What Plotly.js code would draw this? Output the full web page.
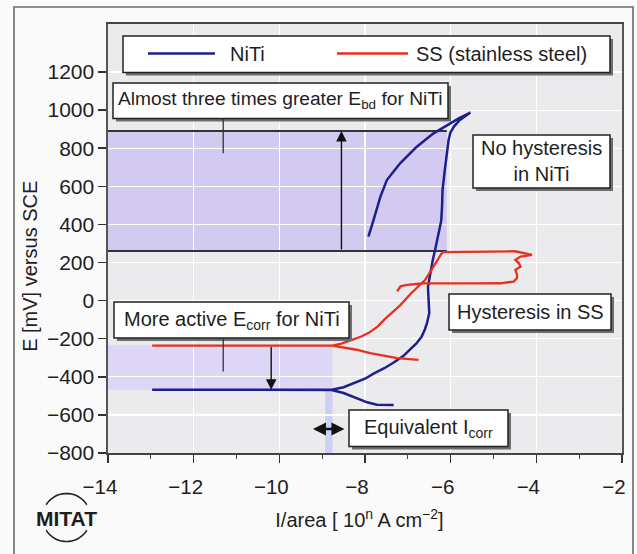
<!DOCTYPE html>
<html>
<head>
<meta charset="utf-8">
<script src="https://cdn.plot.ly/plotly-3.0.1.min.js"></script>
<style>html,body{margin:0;padding:0;background:#fff;}#chart{width:637px;height:554px;}</style>
</head>
<body>
<div id="chart"></div>
<script>
// ---- data ----
const seriesNames = ["NiTi", "SS (stainless steel)"];

// NiTi cyclic polarization curve: cathodic end -> Ecorr -> low-current tail -> anodic -> reverse
const nitiX = [-7.33,-7.72,-7.95,-8.19,-8.50,-8.78,-12.97,-8.78,-8.50,-8.27,-8.00,-7.80,-7.55,-7.33,-7.10,-6.94,-6.80,-6.68,-6.60,-6.55,-6.50,-6.51,-6.52,-6.53,-6.50,-6.47,-6.42,-6.36,-6.30,-6.22,-6.20,-6.19,-6.14,-6.10,-6.05,-6.01,-5.92,-5.80,-5.66,-5.54,-5.80,-6.01,-6.40,-6.79,-7.18,-7.49,-7.64,-7.80,-7.92];
const nitiY = [-548,-547,-534,-511,-485,-469,-468,-468,-455,-435,-410,-383,-355,-325,-290,-255,-225,-190,-150,-115,-66,-20,20,70,110,150,210,270,340,420,500,580,680,760,840,880,915,945,968,987,958,931,878,808,721,633,546,424,336];

// SS cyclic polarization curve
const ssX = [-6.75,-7.00,-7.25,-7.50,-7.88,-8.20,-8.58,-8.76,-12.97,-8.76,-8.55,-8.34,-8.10,-7.90,-7.70,-7.55,-7.35,-7.18,-6.94,-6.75,-6.60,-6.45,-6.32,-6.22,-6.17,-5.50,-5.00,-4.62,-4.50,-4.10,-4.37,-4.49,-4.41,-4.37,-4.49,-4.45,-4.45,-4.53,-4.84,-5.50,-6.20,-6.63,-7.02,-7.17,-7.25];
const ssY = [-311,-308,-302,-292,-276,-258,-241,-236,-236,-236,-226,-210,-190,-168,-135,-100,-62,-25,35,75,108,160,210,245,255,257,257,257,259,240,231,214,197,179,161,135,118,100,91,90,90,91,83,75,48];

// axes
const xTickVals = [-14,-12,-10,-8,-6,-4,-2];
const yTickVals = [-800,-600,-400,-200,0,200,400,600,800,1000,1200];
const xRange = [-14,-2];
const yRange = [-800,1452];

// annotation texts
const labelEbd = "Almost three times greater E<sub>bd</sub> for NiTi";
const labelNoHyst = "No hysteresis<br>in NiTi";
const labelHystSS = "Hysteresis in SS";
const labelEcorr = "More active E<sub>corr</sub> for NiTi";
const labelIcorr = "Equivalent I<sub>corr</sub>";
const xTitle = "I/area [ 10<sup>n</sup> A cm<sup>\u22122</sup>]&nbsp;&nbsp;";
const yTitle = "E [mV] versus SCE" + "&nbsp;".repeat(10);
const logoText = "MITAT";

// key levels (mV / log current)
const ebdNiTi = 890, ebdSS = 260, bandRight = -6.09;
const ecorrSS = -236, ecorrNiTi = -468, ecorrBandRight = -8.76;
const icorrLo = -8.93, icorrHi = -8.76;

// ---- geometry helpers (pixel boxes converted to data coords) ----
const L = 108, R = 622, T = 24, B = 453;
const pxX = px => xRange[0] + (px - L) * (xRange[1] - xRange[0]) / (R - L);
const pxY = py => yRange[1] - (py - T) * (yRange[1] - yRange[0]) / (B - T);
const paperX = px => (px - L) / (R - L);
const paperY = py => (B - py) / (B - T);

const FONT = "Liberation Sans, Arial, Helvetica, sans-serif";
const BLUE = "#1d1f8a", RED = "#e8301e";

const shapes = [];
// shaded bands (below gridlines)
shapes.push({type:"rect", layer:"below", xref:"x", yref:"y", x0:xRange[0], x1:bandRight, y0:ebdSS, y1:ebdNiTi, fillcolor:"#d3caf1", line:{width:0}});
shapes.push({type:"rect", layer:"below", xref:"x", yref:"y", x0:xRange[0], x1:ecorrBandRight, y0:ecorrNiTi, y1:ecorrSS+4, fillcolor:"#ddd6f4", line:{width:0}});
shapes.push({type:"rect", layer:"below", xref:"x", yref:"y", x0:icorrLo, x1:icorrHi, y0:yRange[0], y1:ecorrNiTi, fillcolor:"#ccd0f3", line:{width:0}});
// band edge lines
shapes.push({type:"line", layer:"between", xref:"x", yref:"y", x0:xRange[0], x1:bandRight, y0:ebdNiTi, y1:ebdNiTi, line:{color:"#333", width:2}});
shapes.push({type:"line", layer:"between", xref:"x", yref:"y", x0:xRange[0], x1:bandRight, y0:ebdSS, y1:ebdSS, line:{color:"#333", width:2}});

// boxes with drop shadow
function box(px0, py0, px1, py1) {
  shapes.push({type:"rect", layer:"above", xref:"x", yref:"y", x0:pxX(px0+3), x1:pxX(px1+3), y0:pxY(py0+3), y1:pxY(py1+3), fillcolor:"#6e6e6e", line:{width:0}});
  shapes.push({type:"rect", layer:"above", xref:"x", yref:"y", x0:pxX(px0), x1:pxX(px1), y0:pxY(py0), y1:pxY(py1), fillcolor:"#ffffff", line:{color:"#222", width:1.5}});
}
box(123, 36, 610, 72.5);     // legend
box(113, 83, 448, 118.5);    // Ebd
box(473, 135, 610, 188);     // no hysteresis
box(449, 294, 611, 330);     // hysteresis SS
box(114, 302, 349, 338);     // Ecorr
box(349, 410, 508, 446.5);   // Icorr

// legend sample lines
shapes.push({type:"line", layer:"above", xref:"x", yref:"y", x0:pxX(148), x1:pxX(215), y0:pxY(53.5), y1:pxY(53.5), line:{color:BLUE, width:2.5}});
shapes.push({type:"line", layer:"above", xref:"x", yref:"y", x0:pxX(337), x1:pxX(408), y0:pxY(53.5), y1:pxY(53.5), line:{color:RED, width:2.5}});

// connector lines from labels
shapes.push({type:"line", layer:"above", xref:"x", yref:"y", x0:-11.31, x1:-11.31, y0:pxY(118.5), y1:774, line:{color:"#333", width:1.3}});
shapes.push({type:"line", layer:"above", xref:"x", yref:"y", x0:-11.31, x1:-11.31, y0:pxY(338), y1:-372, line:{color:"#333", width:1.3}});

// outer frame
shapes.push({type:"rect", layer:"above", xref:"paper", yref:"paper", x0:paperX(14), x1:paperX(633), y0:paperY(7), y1:paperY(562), line:{color:"#6a6a6a", width:1.6}, fillcolor:"rgba(0,0,0,0)"});

// MITAT logo arcs
function arc(cx, cy, r, a0, a1) {
  let d = "";
  const n = 24;
  for (let i = 0; i <= n; i++) {
    const a = (a0 + (a1 - a0) * i / n) * Math.PI / 180;
    const x = paperX(cx + r * Math.cos(a));
    const y = paperY(cy - r * Math.sin(a));
    d += (i === 0 ? "M" : "L") + x.toFixed(5) + "," + y.toFixed(5);
  }
  return d;
}
shapes.push({type:"path", layer:"above", xref:"paper", yref:"paper", path:arc(66.5, 517.5, 24, 32, 148), line:{color:"#222", width:1.6}});
shapes.push({type:"path", layer:"above", xref:"paper", yref:"paper", path:arc(66.5, 517.5, 24, 212, 328), line:{color:"#222", width:1.6}});

const txtFont = {family:FONT, size:20, color:"#1e1e1e"};
const annotations = [
  {xref:"x", yref:"y", x:pxX(228), y:pxY(54), text:seriesNames[0], showarrow:false, xanchor:"left", yanchor:"middle", font:txtFont},
  {xref:"x", yref:"y", x:pxX(414), y:pxY(54), text:seriesNames[1], showarrow:false, xanchor:"left", yanchor:"middle", font:txtFont},
  {xref:"x", yref:"y", x:pxX(280), y:pxY(100), text:labelEbd, showarrow:false, xanchor:"center", yanchor:"middle", font:{family:FONT, size:19.2, color:"#1e1e1e"}},
  {xref:"x", yref:"y", x:pxX(541.5), y:pxY(161), text:labelNoHyst, showarrow:false, xanchor:"center", yanchor:"middle", font:txtFont},
  {xref:"x", yref:"y", x:pxX(530), y:pxY(312), text:labelHystSS, showarrow:false, xanchor:"center", yanchor:"middle", font:txtFont},
  {xref:"x", yref:"y", x:pxX(231.5), y:pxY(320), text:labelEcorr, showarrow:false, xanchor:"center", yanchor:"middle", font:txtFont},
  {xref:"x", yref:"y", x:pxX(428.5), y:pxY(428), text:labelIcorr, showarrow:false, xanchor:"center", yanchor:"middle", font:txtFont},
  // arrows
  {xref:"x", yref:"y", axref:"x", ayref:"y", x:-8.55, y:ebdNiTi, ax:-8.55, ay:ebdSS, text:"", showarrow:true, arrowhead:2, arrowsize:1.5, arrowwidth:1.4, arrowcolor:"#111", standoff:0},
  {xref:"x", yref:"y", axref:"x", ayref:"y", x:-10.19, y:ecorrNiTi, ax:-10.19, ay:ecorrSS, text:"", showarrow:true, arrowhead:2, arrowsize:1.5, arrowwidth:1.4, arrowcolor:"#111", standoff:0},
  {xref:"x", yref:"y", axref:"x", ayref:"y", x:-8.48, y:-674, ax:-9.25, ay:-674, text:"", showarrow:true, arrowhead:2, startarrowhead:2, arrowside:"end+start", arrowsize:1, startarrowsize:1, arrowwidth:2.6, arrowcolor:"#111", standoff:0, startstandoff:0},
  // logo
  {xref:"paper", yref:"paper", x:paperX(66.5), y:paperY(518.5), text:"<b>" + logoText + "</b>", showarrow:false, xanchor:"center", yanchor:"middle", font:{family:FONT, size:21, color:"#1e1e1e"}}
];

const traces = [
  {x:nitiX, y:nitiY, name:seriesNames[0], type:"scatter", mode:"lines", line:{color:BLUE, width:2.5}, hoverinfo:"x+y"},
  {x:ssX, y:ssY, name:seriesNames[1], type:"scatter", mode:"lines", line:{color:RED, width:2.3}, hoverinfo:"x+y"}
];

const layout = {
  width:637, height:554,
  margin:{l:L, r:637-R, t:T, b:554-B, pad:0},
  paper_bgcolor:"#fafafa",
  plot_bgcolor:"#ebebed",
  showlegend:false,
  font:{family:FONT, size:20, color:"#1e1e1e"},
  xaxis:{
    range:xRange, tickvals:xTickVals, ticks:"outside", ticklen:8, tickwidth:1.5, tickcolor:"#333",
    showline:true, linecolor:"#444", linewidth:1.6, mirror:true,
    showgrid:true, gridcolor:"#ffffff", gridwidth:1.2, zeroline:false,
    tickfont:{family:FONT, size:20.5, color:"#1e1e1e"}, ticklabelstandoff:7, ticklabelshift:-8, ticklabeloverflow:"allow",
    minor:{dtick:1, tick0:-14, ticks:"outside", ticklen:4, tickwidth:1.3, tickcolor:"#444", showgrid:false},
    title:{text:xTitle, font:{family:FONT, size:20, color:"#1e1e1e"}, standoff:16}
  },
  yaxis:{
    range:yRange, tickvals:yTickVals, ticks:"outside", ticklen:8, tickwidth:1.5, tickcolor:"#333",
    showline:true, linecolor:"#555", linewidth:1.6, mirror:true,
    showgrid:true, gridcolor:"#ffffff", gridwidth:1.2, zeroline:false,
    tickfont:{family:FONT, size:21, color:"#1e1e1e"},
    title:{text:yTitle, font:{family:FONT, size:20, color:"#1e1e1e"}, standoff:4}
  },
  shapes:shapes,
  annotations:annotations
};

Plotly.newPlot("chart", traces, layout, {staticPlot:true, displayModeBar:false});
</script>
</body>
</html>
